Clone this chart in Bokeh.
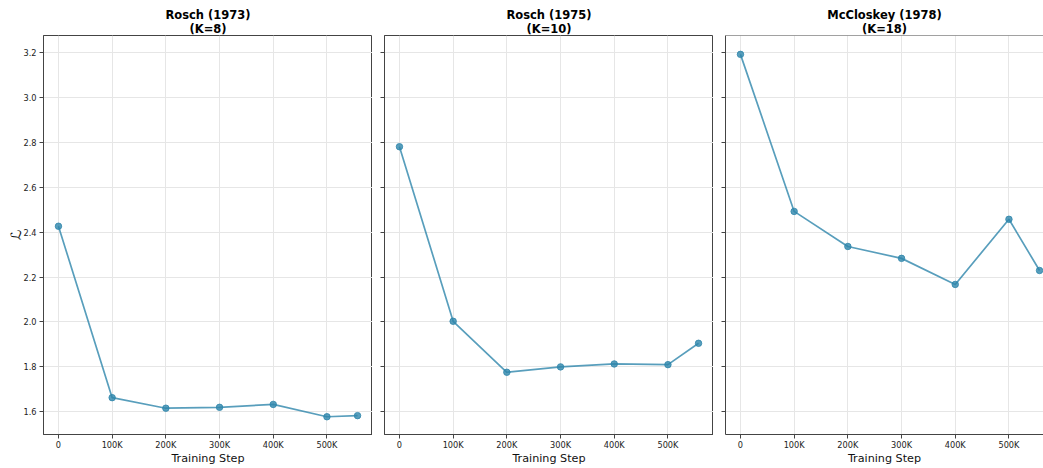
from bokeh.plotting import figure
from bokeh.layouts import row
from bokeh.models import FixedTicker, Range1d, PrintfTickFormatter, Title, Span
from bokeh.embed import file_html
from bokeh.resources import INLINE

# ---- data ----
steps = [0, 100000, 200000, 300000, 400000, 500000, 557000]
rosch_1973 = [2.426, 1.663, 1.616, 1.620, 1.633, 1.578, 1.583]
rosch_1975 = [2.780, 2.003, 1.776, 1.800, 1.813, 1.810, 1.905]
mccloskey_1978 = [3.191, 2.492, 2.336, 2.283, 2.167, 2.457, 2.229]
panel_titles = ["Rosch (1973)", "Rosch (1975)", "McCloskey (1978)"]
panel_subtitles = ["(K=8)", "(K=10)", "(K=18)"]
x_ticks = [0, 100000, 200000, 300000, 400000, 500000]
x_tick_labels = ["0", "100K", "200K", "300K", "400K", "500K"]
y_ticks = [1.6, 1.8, 2.0, 2.2, 2.4, 2.6, 2.8, 3.0, 3.2]
x_label = "Training Step"
y_label = "ℒ"

series = [rosch_1973, rosch_1975, mccloskey_1978]

LINE_COLOR = "#2E86AB"
FRAME_COLOR = "#444444"
FONT = "DejaVu Sans"
X_START, X_END = -27850, 584850
Y_START, Y_END = 1.499, 3.275

# layout geometry: frames 329, 329, 318 px (last panel cut at the right edge)
frame_w = [329, 329, 318]
left_borders = [43, 12, 12]
widths = [fw + lb for fw, lb in zip(frame_w, left_borders)]
x_ends = [X_START + (X_END - X_START) * fw / 329 for fw in frame_w]

y_range = Range1d(Y_START, Y_END)
figs = []
for i, vals in enumerate(series):
    p = figure(width=widths[i], height=468, output_backend="svg", toolbar_location=None,
               x_range=Range1d(X_START, x_ends[i]), y_range=y_range,
               min_border_left=left_borders[i], min_border_right=0,
               min_border_top=35, min_border_bottom=34)
    # main title is the figure title; subtitle added later sits closer to the frame
    p.title.text = panel_titles[i]
    sub = Title(text=panel_subtitles[i])
    for t in (p.title, sub):
        t.align = "center"
        t.text_font = FONT
        t.text_font_size = "11.5px"
        t.text_font_style = "bold"
        t.text_color = "#000000"
        t.offset = 0
    sub.standoff = 0
    p.title.standoff = -4
    p.add_layout(sub, "above")

    p.background_fill_color = "white"
    p.border_fill_color = "white"
    if i < 2:
        p.outline_line_color = FRAME_COLOR
        p.outline_line_width = 1
    else:
        # last panel is cut off at the right edge: no right border, only the top edge
        p.outline_line_color = None
        p.add_layout(Span(location=Y_END, dimension="width",
                          line_color=FRAME_COLOR, line_width=1))

    p.xaxis.ticker = FixedTicker(ticks=x_ticks)
    p.xaxis.major_label_overrides = {t: l for t, l in zip(x_ticks, x_tick_labels)}
    p.yaxis.ticker = FixedTicker(ticks=y_ticks)
    p.yaxis.formatter = PrintfTickFormatter(format="%.1f")
    for ax in (p.xaxis, p.yaxis):
        ax.axis_line_color = FRAME_COLOR
        ax.major_tick_line_color = FRAME_COLOR
        ax.major_tick_out = 4
        ax.major_tick_in = 0
        ax.minor_tick_line_color = None
        ax.major_label_text_font = FONT
        ax.major_label_text_font_size = "8.2px"
        ax.major_label_text_color = "#222222"
        ax.axis_label_text_font = FONT
        ax.axis_label_text_font_style = "normal"
        ax.axis_label_text_color = "#111111"
    p.xaxis.major_label_standoff = 1
    p.yaxis.major_label_standoff = 3
    p.xaxis.axis_label = x_label
    p.xaxis.axis_label_text_font_size = "11.2px"
    p.xaxis.axis_label_standoff = -1
    if i == 0:
        p.yaxis.axis_label = y_label
        p.yaxis.axis_label_text_font_size = "14px"
        p.yaxis.axis_label_standoff = -4
    else:
        p.yaxis.major_label_text_font_size = "0px"
        p.yaxis.major_label_text_color = None

    p.xgrid.ticker = FixedTicker(ticks=x_ticks)
    p.ygrid.ticker = FixedTicker(ticks=y_ticks)
    for g in (p.xgrid, p.ygrid):
        g.grid_line_color = "#e6e6e6"
        g.grid_line_width = 1

    p.line(steps, vals, line_color=LINE_COLOR, line_width=1.7, line_alpha=0.8)
    p.scatter(steps, vals, size=6.5, fill_color=LINE_COLOR, line_color=LINE_COLOR,
              fill_alpha=0.8, line_alpha=0.8)
    figs.append(p)

layout = row(*figs, spacing=0)
open("out.html", "w").write(file_html(layout, INLINE))
